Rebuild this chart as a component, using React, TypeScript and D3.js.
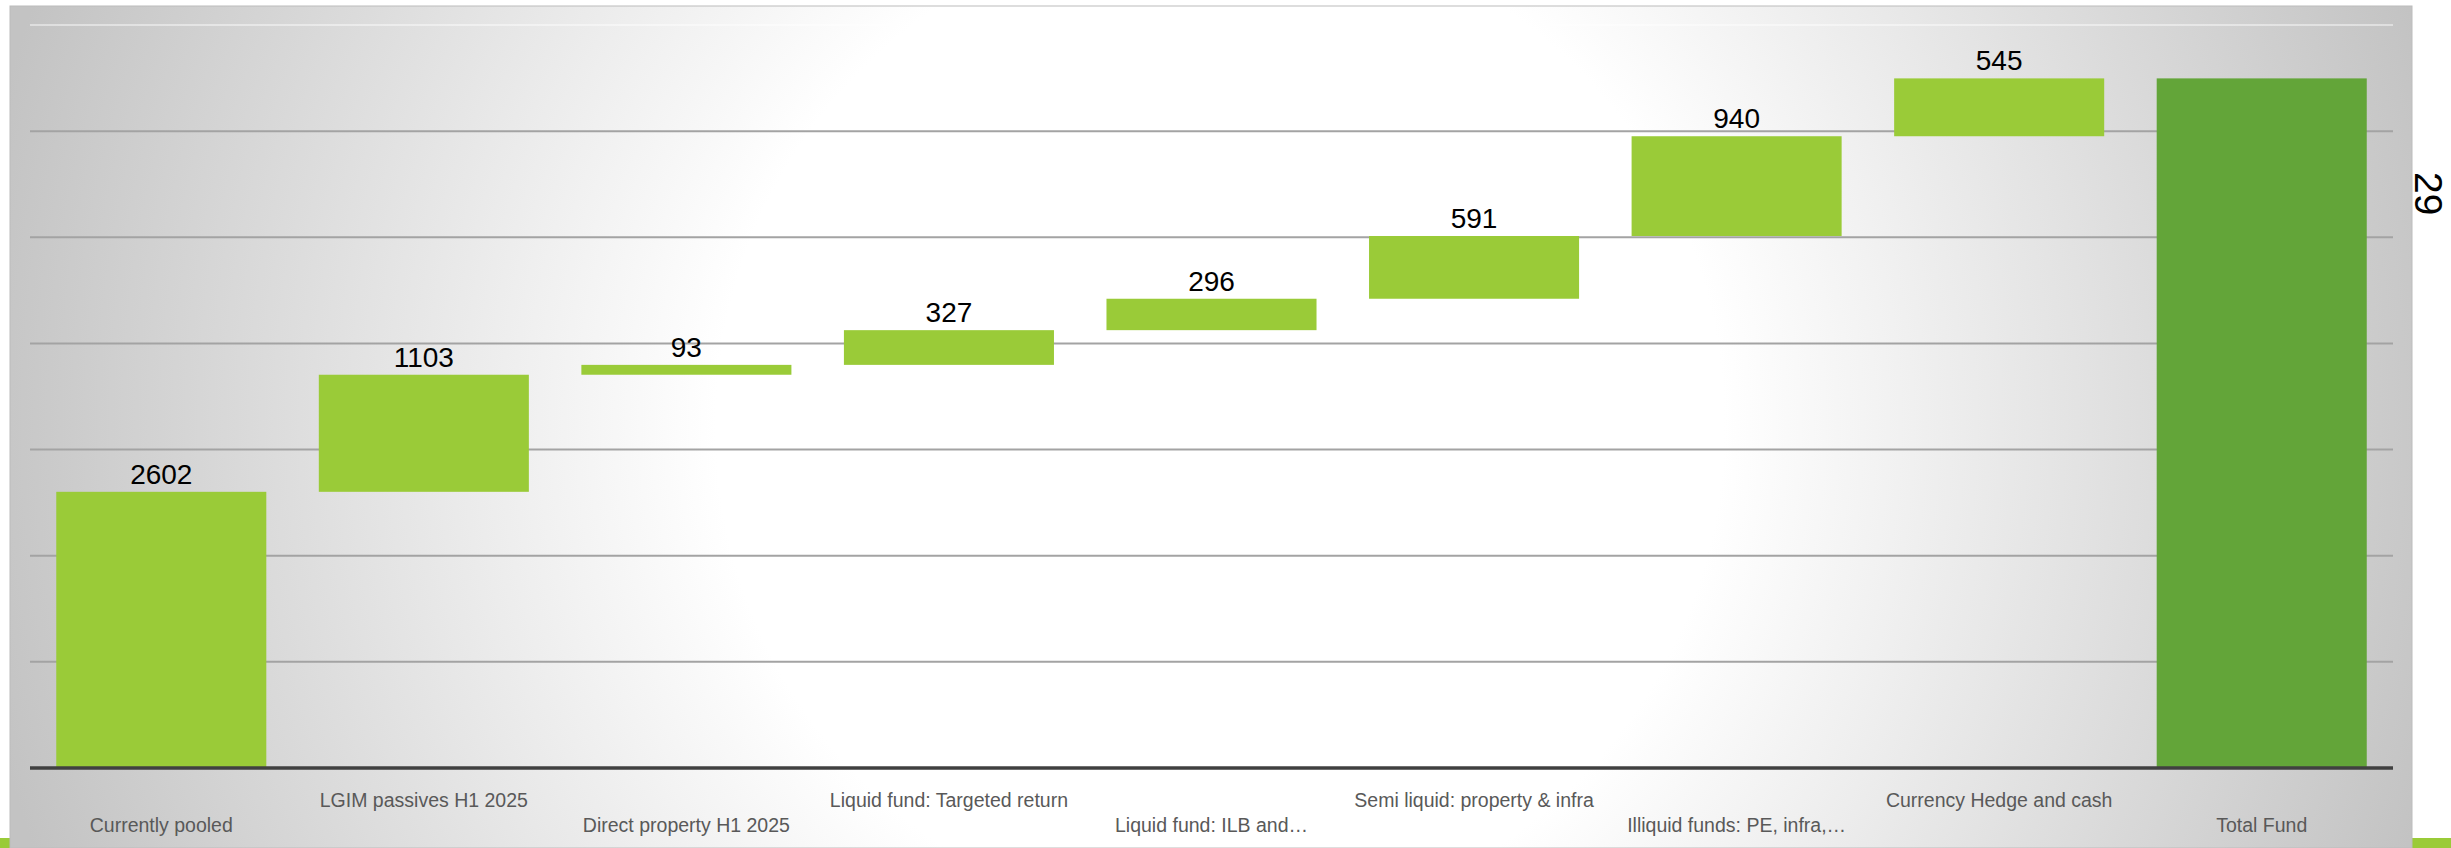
import React, { useEffect, useRef } from "react";
import * as d3 from "d3";

const categories = [
  "Currently pooled",
  "LGIM passives H1 2025",
  "Direct property H1 2025",
  "Liquid fund: Targeted return",
  "Liquid fund: ILB and…",
  "Semi liquid: property & infra",
  "Illiquid funds: PE, infra,…",
  "Currency Hedge and cash",
  "Total Fund",
];
const stepValues = [2602, 1103, 93, 327, 296, 591, 940, 545];
const totalValue = 6497;
const yTicks = [1000, 2000, 3000, 4000, 5000, 6000];
const yMax = 7000;
const pageNumber = "29";

const W = 2451;
const H = 848;

export default function App() {
  const ref = useRef<SVGSVGElement | null>(null);

  useEffect(() => {
    const svg = d3.select(ref.current);
    svg.selectAll("*").remove();

    const defs = svg.append("defs");
    const grad = defs
      .append("radialGradient")
      .attr("id", "bgGrad")
      .attr("gradientUnits", "userSpaceOnUse")
      .attr("cx", 1220)
      .attr("cy", 425)
      .attr("r", 1260);
    grad.append("stop").attr("offset", "0").attr("stop-color", "#ffffff");
    grad.append("stop").attr("offset", "0.4").attr("stop-color", "#ffffff");
    grad.append("stop").attr("offset", "1").attr("stop-color", "#c3c3c3");

    // green strip at the bottom of the slide
    svg.append("rect").attr("x", 0).attr("y", 838).attr("width", W).attr("height", 10).attr("fill", "#9acb38");

    // chart background
    svg
      .append("rect")
      .attr("x", 10)
      .attr("y", 6)
      .attr("width", 2402)
      .attr("height", H - 6)
      .attr("fill", "url(#bgGrad)")
      .attr("stroke", "#bcbcbc")
      .attr("stroke-width", 1);

    const x = d3
      .scaleBand<string>()
      .domain(categories)
      .range([30, 2393])
      .paddingInner(0.2)
      .paddingOuter(0.1);
    const y = d3.scaleLinear().domain([0, yMax]).range([768, 25]);

    // gridlines
    const g = svg.append("g");
    g.selectAll("line.grid")
      .data(yTicks)
      .join("line")
      .attr("class", "grid")
      .attr("x1", 30)
      .attr("x2", 2393)
      .attr("y1", (d) => y(d))
      .attr("y2", (d) => y(d))
      .attr("stroke", "#a3a3a3")
      .attr("stroke-width", 2);
    g.append("line")
      .attr("x1", 30)
      .attr("x2", 2393)
      .attr("y1", y(yMax))
      .attr("y2", y(yMax))
      .attr("stroke", "#ffffff")
      .attr("stroke-opacity", 0.45)
      .attr("stroke-width", 2);

    // waterfall data
    let cum = 0;
    const bars = stepValues.map((v, i) => {
      const d = { cat: categories[i], base: cum, value: v, total: false };
      cum += v;
      return d;
    });
    bars.push({ cat: categories[8], base: 0, value: totalValue, total: true });

    g.selectAll("rect.bar")
      .data(bars)
      .join("rect")
      .attr("class", "bar")
      .attr("x", (d) => x(d.cat)!)
      .attr("width", x.bandwidth())
      .attr("y", (d) => y(d.base + d.value))
      .attr("height", (d) => y(d.base) - y(d.base + d.value))
      .attr("fill", (d) => (d.total ? "#63a539" : "#9acb38"));

    // axis line
    g.append("line")
      .attr("x1", 30)
      .attr("x2", 2393)
      .attr("y1", y(0))
      .attr("y2", y(0))
      .attr("stroke", "#404040")
      .attr("stroke-width", 3.5);

    // data labels
    g.selectAll("text.val")
      .data(bars.filter((d) => !d.total))
      .join("text")
      .attr("class", "val")
      .attr("x", (d) => x(d.cat)! + x.bandwidth() / 2)
      .attr("y", (d) => y(d.base + d.value) - 8)
      .attr("text-anchor", "middle")
      .attr("font-family", "'Liberation Sans', Arial, sans-serif")
      .attr("font-size", 28)
      .attr("fill", "#000000")
      .text((d) => String(d.value));

    // category labels (staggered)
    g.selectAll("text.cat")
      .data(categories)
      .join("text")
      .attr("class", "cat")
      .attr("x", (d) => x(d)! + x.bandwidth() / 2)
      .attr("y", (_d, i) => (i % 2 === 0 ? 832 : 806.5))
      .attr("text-anchor", "middle")
      .attr("font-family", "'Liberation Sans', Arial, sans-serif")
      .attr("font-size", 19.5)
      .attr("fill", "#595959")
      .text((d) => d);

    // page number (rotated)
    svg
      .append("text")
      .attr("transform", "translate(2415,172) rotate(90)")
      .attr("font-family", "'Liberation Sans', Arial, sans-serif")
      .attr("font-size", 39)
      .attr("fill", "#000000")
      .text(pageNumber);
  }, []);

  return (
    <svg
      ref={ref}
      width={W}
      height={H}
      style={{ position: "absolute", left: 0, top: 0, display: "block", background: "#ffffff" }}
    />
  );
}
